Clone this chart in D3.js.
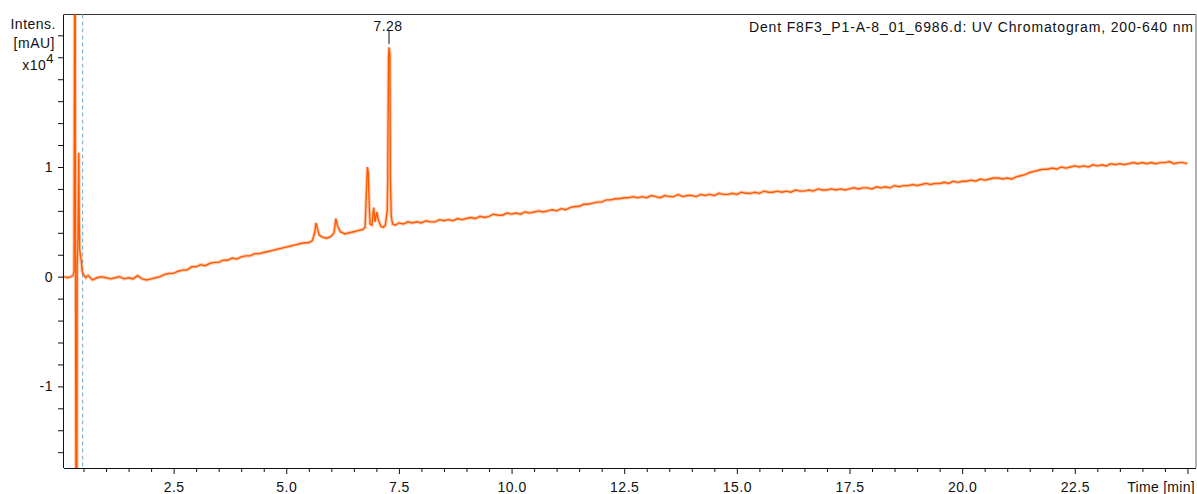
<!DOCTYPE html>
<html>
<head>
<meta charset="utf-8">
<script src="https://cdn.jsdelivr.net/npm/d3@7"></script>
<style>
  body { margin: 0; background: #fff; }
  svg { display: block; font-family: "Liberation Sans", Arial, sans-serif; }
</style>
</head>
<body>
<svg id="chart" width="1197" height="494"></svg>
<script>
const TITLE = "Dent F8F3_P1-A-8_01_6986.d: UV Chromatogram, 200-640 nm";
const X_LABEL = "Time [min]";
const Y_LABEL = ["Intens.", "[mAU]"];

// solvent front, [time min, intensity x10^4 mAU]
const frontPoints = [
  [0.07, 0.0], [0.15, -0.01], [0.22, 0.0], [0.27, 0.01], [0.29, 0.05],
  [0.305, 3.0], [0.315, 3.0], [0.325, -0.3], [0.335, -2.5], [0.35, -2.5],
  [0.36, 0.1], [0.375, 0.3], [0.395, 1.13], [0.405, 0.5], [0.415, 0.25],
  [0.43, 0.2], [0.45, 0.15], [0.47, 0.05], [0.5, 0.02], [0.55, -0.01]
];

// sampled every 0.1 min from 0.6 to 5.5
const earlyStart = 0.6;
const earlyValues = [
  0.01, -0.03, -0.01, 0.00, -0.01, -0.02, -0.01, 0.00, -0.02, -0.01,
  -0.02, 0.01, -0.02, -0.03, -0.02, -0.01, 0.00, 0.02, 0.03, 0.03,
  0.05, 0.06, 0.06, 0.09, 0.09, 0.11, 0.10, 0.12, 0.13, 0.13,
  0.15, 0.15, 0.17, 0.16, 0.18, 0.19, 0.19, 0.21, 0.21, 0.22,
  0.23, 0.24, 0.25, 0.26, 0.27, 0.28, 0.29, 0.30, 0.31, 0.31
];

// peak cluster between 5.5 and 7.5 min
const peakPoints = [
  [5.58, 0.33], [5.63, 0.40], [5.66, 0.49], [5.69, 0.44], [5.73, 0.38],
  [5.8, 0.36], [5.9, 0.35], [6.0, 0.37], [6.06, 0.40], [6.1, 0.53],
  [6.14, 0.46], [6.2, 0.41], [6.3, 0.39], [6.4, 0.40], [6.5, 0.41],
  [6.6, 0.42], [6.7, 0.43], [6.75, 0.45], [6.78, 0.80], [6.8, 1.00],
  [6.82, 0.95], [6.84, 0.66], [6.86, 0.48], [6.9, 0.47], [6.94, 0.63],
  [6.97, 0.50], [7.01, 0.59], [7.04, 0.52], [7.1, 0.46], [7.15, 0.45],
  [7.2, 0.47], [7.24, 0.60], [7.25, 0.85], [7.27, 2.0], [7.28, 2.09],
  [7.30, 2.02], [7.31, 0.9], [7.33, 0.55], [7.36, 0.48], [7.42, 0.47]
];

// sampled every 0.1 min from 7.5 to 25.0
const lateStart = 7.5;
const lateValues = [
  0.49, 0.48, 0.50, 0.49, 0.50, 0.49, 0.51, 0.50, 0.50, 0.52,
  0.51, 0.52, 0.51, 0.53, 0.52, 0.53, 0.54, 0.53, 0.55, 0.54,
  0.55, 0.57, 0.56, 0.56, 0.58, 0.57, 0.58, 0.57, 0.59, 0.58,
  0.59, 0.60, 0.59, 0.60, 0.61, 0.60, 0.62, 0.61, 0.63, 0.64,
  0.64, 0.66, 0.66, 0.67, 0.68, 0.68, 0.70, 0.70, 0.71, 0.71,
  0.72, 0.72, 0.73, 0.72, 0.73, 0.72, 0.74, 0.73, 0.72, 0.74,
  0.73, 0.73, 0.75, 0.73, 0.74, 0.74, 0.73, 0.75, 0.74, 0.75,
  0.74, 0.76, 0.75, 0.75, 0.76, 0.75, 0.77, 0.76, 0.76, 0.77,
  0.76, 0.78, 0.77, 0.77, 0.78, 0.77, 0.78, 0.77, 0.79, 0.78,
  0.78, 0.79, 0.78, 0.80, 0.79, 0.79, 0.80, 0.79, 0.80, 0.79,
  0.80, 0.81, 0.80, 0.81, 0.81, 0.80, 0.82, 0.81, 0.82, 0.81,
  0.83, 0.82, 0.83, 0.83, 0.84, 0.83, 0.84, 0.85, 0.84, 0.85,
  0.85, 0.86, 0.85, 0.87, 0.86, 0.87, 0.87, 0.88, 0.87, 0.89,
  0.88, 0.89, 0.90, 0.90, 0.89, 0.90, 0.89, 0.91, 0.92, 0.93,
  0.95, 0.96, 0.97, 0.98, 0.98, 0.99, 0.98, 1.00, 0.99, 1.00,
  1.01, 1.00, 1.01, 1.00, 1.02, 1.01, 1.02, 1.01, 1.03, 1.02,
  1.03, 1.02, 1.03, 1.04, 1.03, 1.04, 1.03, 1.04, 1.03, 1.04,
  1.04, 1.05, 1.03, 1.04, 1.04, 1.03
];

const peakLabels = [{ time: 7.28, value: 2.09, text: "7.28" }];
const markerTime = 0.48; // dashed marker
const xTicks = d3.range(0.5, 25.01, 0.5);
const xLabelTicks = [2.5, 5.0, 7.5, 10.0, 12.5, 15.0, 17.5, 20.0, 22.5];
const yTicks = d3.range(-1.6, 2.21, 0.2);
const yLabelTicks = [-1, 0, 1];

const TRACE_COLOR = "#ff5a00";
const FONT_SIZE = 14;

const svg = d3.select("#chart");
const plotLeft = 64, plotRight = 1196, plotTop = 14.5, plotBottom = 468;

const x = d3.scaleLinear().domain([0.067, 25.19]).range([plotLeft, plotRight]);
const y = d3.scaleLinear().domain([-1.744, 2.39]).range([plotBottom, plotTop]);

function buildTrace() {
  const pts = frontPoints.slice();
  earlyValues.forEach((v, i) => pts.push([earlyStart + i * 0.1, v]));
  peakPoints.forEach((p) => pts.push(p));
  lateValues.forEach((v, i) => pts.push([lateStart + i * 0.1, v]));
  return pts;
}

function isLabelled(list, d) {
  return list.some((t) => Math.abs(t - d) < 1e-6);
}

svg.append("clipPath").attr("id", "plot-clip")
  .append("rect")
  .attr("x", plotLeft).attr("y", plotTop)
  .attr("width", plotRight - plotLeft).attr("height", plotBottom - plotTop);

// frame
svg.append("line")
  .attr("x1", plotLeft).attr("x2", plotRight).attr("y1", plotTop).attr("y2", plotTop)
  .attr("stroke", "#333").attr("stroke-width", 1);
svg.append("line")
  .attr("x1", plotRight).attr("x2", plotRight).attr("y1", plotTop).attr("y2", plotBottom)
  .attr("stroke", "#9a9a9a").attr("stroke-width", 1.5);

// dashed marker line
svg.append("line")
  .attr("x1", x(markerTime)).attr("x2", x(markerTime))
  .attr("y1", plotTop).attr("y2", plotBottom)
  .attr("stroke", "#7fb6de").attr("stroke-width", 1.2)
  .attr("stroke-dasharray", "4,3");

const trace = buildTrace();
const line = d3.line().x((d) => x(d[0])).y((d) => y(d[1]));
const traceGroup = svg.append("g").attr("clip-path", "url(#plot-clip)");
traceGroup.append("path")
  .datum(trace)
  .attr("d", line)
  .attr("fill", "none")
  .attr("stroke", TRACE_COLOR)
  .attr("stroke-opacity", 0.3)
  .attr("stroke-width", 3.5)
  .attr("stroke-linejoin", "miter");
traceGroup.append("path")
  .datum(trace)
  .attr("d", line)
  .attr("fill", "none")
  .attr("stroke", TRACE_COLOR)
  .attr("stroke-width", 1.4)
  .attr("stroke-linejoin", "miter");

// x axis
const xAxis = svg.append("g")
  .attr("transform", `translate(0,${plotBottom})`)
  .call(d3.axisBottom(x)
    .tickValues(xTicks)
    .tickSizeOuter(0)
    .tickPadding(8)
    .tickFormat((d) => (isLabelled(xLabelTicks, d) ? d.toFixed(1) : "")));
xAxis.select(".domain").attr("d", `M${plotLeft},0.5H${plotRight}`);
xAxis.selectAll(".tick line")
  .attr("y2", (d) => (isLabelled(xLabelTicks, d) || Math.abs(d - 25) < 1e-6 ? 6 : 4));

// y axis
const yAxis = svg.append("g")
  .attr("transform", `translate(${plotLeft},0)`)
  .call(d3.axisLeft(y)
    .tickValues(yTicks)
    .tickSizeOuter(0)
    .tickSize(6)
    .tickPadding(5)
    .tickFormat((d) => (isLabelled(yLabelTicks, d) ? String(Math.round(d)) : "")));
yAxis.select(".domain").attr("d", `M-0.5,${plotTop}V${plotBottom}`);

svg.selectAll(".tick text")
  .attr("font-family", "Liberation Sans, Arial, sans-serif")
  .attr("font-size", FONT_SIZE)
  .attr("fill", "#111")
  .attr("letter-spacing", 0.5);
svg.selectAll(".domain, .tick line").attr("stroke", "#111");

// y axis title
const yTitle = svg.append("g")
  .attr("font-size", FONT_SIZE)
  .attr("text-anchor", "end")
  .attr("letter-spacing", 0.5)
  .attr("fill", "#111");
yTitle.append("text").attr("x", 56).attr("y", 28.5).text(Y_LABEL[0]);
yTitle.append("text").attr("x", 55).attr("y", 48).text(Y_LABEL[1]);
const scaleText = yTitle.append("text").attr("x", 54).attr("y", 70);
scaleText.append("tspan").text("x10");
scaleText.append("tspan").attr("dy", -7).attr("font-size", 13).text("4");

// x axis title
svg.append("text")
  .attr("x", 1195).attr("y", 491.5)
  .attr("text-anchor", "end")
  .attr("font-size", FONT_SIZE)
  .attr("letter-spacing", 0.3)
  .attr("fill", "#111")
  .text(X_LABEL);

// chart title
svg.append("text")
  .attr("x", 1193).attr("y", 32)
  .attr("text-anchor", "end")
  .attr("font-size", FONT_SIZE)
  .attr("textLength", 444)
  .attr("lengthAdjust", "spacing")
  .attr("fill", "#111")
  .text(TITLE);

// peak annotations
peakLabels.forEach((p) => {
  svg.append("line")
    .attr("x1", x(p.time)).attr("x2", x(p.time))
    .attr("y1", 31).attr("y2", 44)
    .attr("stroke", "#111").attr("stroke-width", 1);
  svg.append("text")
    .attr("x", x(p.time) - 1).attr("y", 30.5)
    .attr("text-anchor", "middle")
    .attr("font-size", FONT_SIZE)
    .attr("letter-spacing", 0.5)
    .attr("fill", "#111")
    .text(p.text);
});
</script>
</body>
</html>
